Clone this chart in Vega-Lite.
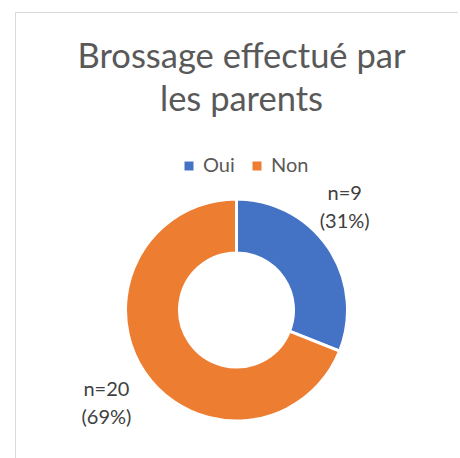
{
  "$schema": "https://vega.github.io/schema/vega-lite/v6.json",
  "autosize": "none",
  "padding": {"left": 15, "top": 12, "right": 0, "bottom": 0},
  "width": 443,
  "height": 596,
  "background": "white",
  "view": {"stroke": "#D9D9D9", "strokeWidth": 1, "strokeDash": [443, 1039, 596]},
  "config": {
    "font": "Lato"
  },
  "title": {
    "text": ["Brossage effectué par", "les parents"],
    "anchor": "middle",
    "frame": "group",
    "baseline": "alphabetic",
    "offset": 0,
    "dy": 133,
    "dx": 5,
    "font": "Lato",
    "fontSize": 34.5,
    "fontWeight": 400,
    "color": "#595959",
    "lineHeight": 43
  },
  "data": {
    "values": [
      {"category": "Oui", "n": 9, "label": "n=9\n(31%)"},
      {"category": "Non", "n": 20, "label": "n=20\n(69%)"}
    ]
  },
  "encoding": {
    "theta": {"field": "n", "type": "quantitative", "stack": true},
    "order": {"field": "n", "type": "quantitative", "sort": "ascending"}
  },
  "layer": [
    {
      "mark": {"type": "arc", "outerRadius": 111, "innerRadius": 57, "stroke": "white", "strokeWidth": 3},
      "encoding": {
        "color": {
          "field": "category",
          "type": "nominal",
          "scale": {"domain": ["Oui", "Non"], "range": ["#4472C4", "#ED7D31"]},
          "sort": ["Oui", "Non"],
          "legend": {
            "orient": "none",
            "direction": "horizontal",
            "legendX": 164,
            "legendY": 144,
            "title": null,
            "symbolType": "square",
            "symbolSize": 81,
            "symbolStrokeWidth": 0,
            "labelFontSize": 20,
            "labelFont": "Lato",
            "labelColor": "#595959",
            "labelOffset": 4,
            "columnPadding": 12,
            "padding": 0
          }
        }
      }
    },
    {
      "mark": {"type": "text", "radius": 150, "dx": -16, "dy": -32, "fontSize": 20, "font": "Lato", "color": "#404040", "lineBreak": "\n", "lineHeight": 28, "baseline": "middle", "align": "center"},
      "encoding": {
        "text": {"condition": {"test": "datum.category === 'Oui'", "field": "label"}, "value": ""}
      }
    },
    {
      "mark": {"type": "text", "radius": 162, "dx": 4, "dy": -11, "fontSize": 20, "font": "Lato", "color": "#404040", "lineBreak": "\n", "lineHeight": 28, "baseline": "middle", "align": "center"},
      "encoding": {
        "text": {"condition": {"test": "datum.category === 'Non'", "field": "label"}, "value": ""}
      }
    }
  ]
}
